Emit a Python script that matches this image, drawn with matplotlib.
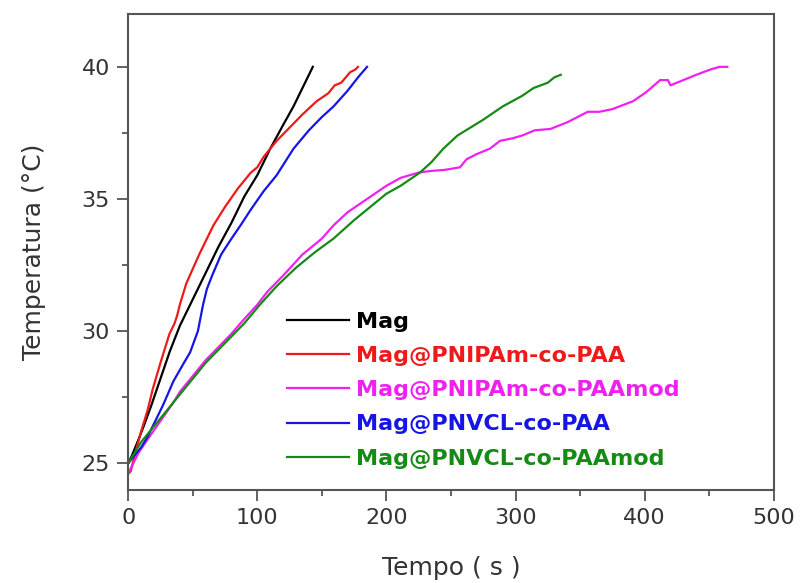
import numpy as np
import matplotlib.pyplot as plt
from matplotlib.ticker import MultipleLocator

plt.rcParams['font.family'] = ['DejaVu Sans']

# heating curves, time (s) vs temperature (C)
mag_t = [0, 3, 8, 12, 18, 25, 32, 40, 50, 60, 70, 80, 90, 100, 110, 120, 128, 134, 138, 141, 143]
mag_T = [25.0, 25.3, 25.9, 26.4, 27.2, 28.2, 29.2, 30.2, 31.2, 32.2, 33.2, 34.1, 35.1, 35.9, 36.9, 37.8,
         38.5, 39.1, 39.5, 39.8, 40.0]

pnipam_t = [0, 2, 5, 10, 15, 19, 25, 32, 36, 38, 40, 45, 55, 66, 75, 85, 95, 100, 105, 115, 125, 135, 146,
            155, 160, 165, 172, 176, 178]
pnipam_T = [24.6, 24.7, 25.3, 26.2, 27.0, 27.8, 28.8, 29.9, 30.3, 30.6, 31.0, 31.8, 32.9, 34.0, 34.7, 35.4,
            36.0, 36.2, 36.6, 37.2, 37.7, 38.2, 38.7, 39.0, 39.3, 39.4, 39.8, 39.9, 40.0]

pnipam_mod_t = [0, 3, 8, 15, 25, 35, 40, 50, 60, 70, 80, 87, 100, 108, 120, 135, 150, 159, 170, 185, 200,
                211, 225, 234, 245, 257, 262, 270, 280, 288, 298, 305, 315, 327, 340, 348, 356, 365, 375,
                391, 400, 405, 412, 418, 420, 430, 440, 451, 458, 464]
pnipam_mod_T = [24.6, 24.9, 25.4, 25.9, 26.6, 27.3, 27.7, 28.3, 28.9, 29.4, 29.9, 30.3, 31.0, 31.5, 32.1,
                32.9, 33.5, 34.0, 34.5, 35.0, 35.5, 35.8, 36.0, 36.06, 36.1, 36.2, 36.5, 36.7, 36.9, 37.2,
                37.3, 37.4, 37.6, 37.65, 37.9, 38.1, 38.3, 38.3, 38.4, 38.7, 39.0, 39.2, 39.5, 39.5, 39.3,
                39.5, 39.7, 39.9, 40.0, 40.0]

pnvcl_t = [0, 5, 10, 15, 20, 27, 35, 42, 48, 54, 58, 61, 65, 72, 80, 87, 95, 105, 115, 128, 140, 150, 159,
           170, 178, 185]
pnvcl_T = [25.0, 25.3, 25.6, 26.0, 26.5, 27.2, 28.1, 28.7, 29.2, 30.0, 31.0, 31.6, 32.1, 32.9, 33.5, 34.0,
           34.6, 35.3, 35.9, 36.9, 37.6, 38.1, 38.5, 39.1, 39.6, 40.0]

pnvcl_mod_t = [0, 5, 10, 20, 30, 40, 50, 60, 70, 80, 90, 102, 115, 130, 145, 159, 175, 190, 200, 211, 220,
               226, 235, 244, 255, 265, 275, 290, 305, 314, 325, 330, 335]
pnvcl_mod_T = [25.0, 25.4, 25.8, 26.4, 27.0, 27.6, 28.2, 28.8, 29.3, 29.8, 30.3, 31.0, 31.7, 32.4, 33.0,
               33.5, 34.2, 34.8, 35.2, 35.5, 35.8, 36.0, 36.4, 36.9, 37.4, 37.7, 38.0, 38.5, 38.9, 39.2,
               39.4, 39.6, 39.7]

labels = ['Mag', 'Mag@PNIPAm-co-PAA', 'Mag@PNIPAm-co-PAAmod', 'Mag@PNVCL-co-PAA', 'Mag@PNVCL-co-PAAmod']
colors = ['black', '#ee1a1a', '#f020f0', '#1515e6', '#158a15']

fig = plt.figure(figsize=(8.01, 5.83), dpi=100)
ax = fig.add_axes([0.16, 0.16, 0.806, 0.816])

series = [(mag_t, mag_T), (pnipam_t, pnipam_T), (pnipam_mod_t, pnipam_mod_T),
          (pnvcl_t, pnvcl_T), (pnvcl_mod_t, pnvcl_mod_T)]
for (t, T), lab, c in zip(series, labels, colors):
    ax.plot(t, T, color=c, lw=1.6, label=lab)

ax.set_xlim(0, 500)
ax.set_ylim(24, 42)
ax.xaxis.set_major_locator(MultipleLocator(100))
ax.xaxis.set_minor_locator(MultipleLocator(50))
ax.yaxis.set_major_locator(MultipleLocator(5))
ax.yaxis.set_minor_locator(MultipleLocator(2.5))
ax.tick_params(which='major', direction='out', length=8, width=1.3, color='#555555',
               labelsize=16, labelcolor='#333333', pad=5)
ax.tick_params(which='minor', direction='out', length=4.5, width=1.3, color='#555555')
for s in ax.spines.values():
    s.set_color('#555555')
    s.set_linewidth(1.5)

ax.set_xlabel('Tempo ( s )', fontsize=18, color='#333333', labelpad=20)
ax.set_ylabel('Temperatura (°C)', fontsize=18, color='#333333', labelpad=26)

leg = ax.legend(loc='upper left', bbox_to_anchor=(0.246, 0.374), frameon=False,
                prop={'weight': 'bold', 'size': 16}, handlelength=2.8, handletextpad=0.3,
                labelspacing=0.64, borderpad=0, borderaxespad=0)
for txt, c in zip(leg.get_texts(), colors):
    txt.set_color(c)

plt.savefig('out.png', dpi=100)
